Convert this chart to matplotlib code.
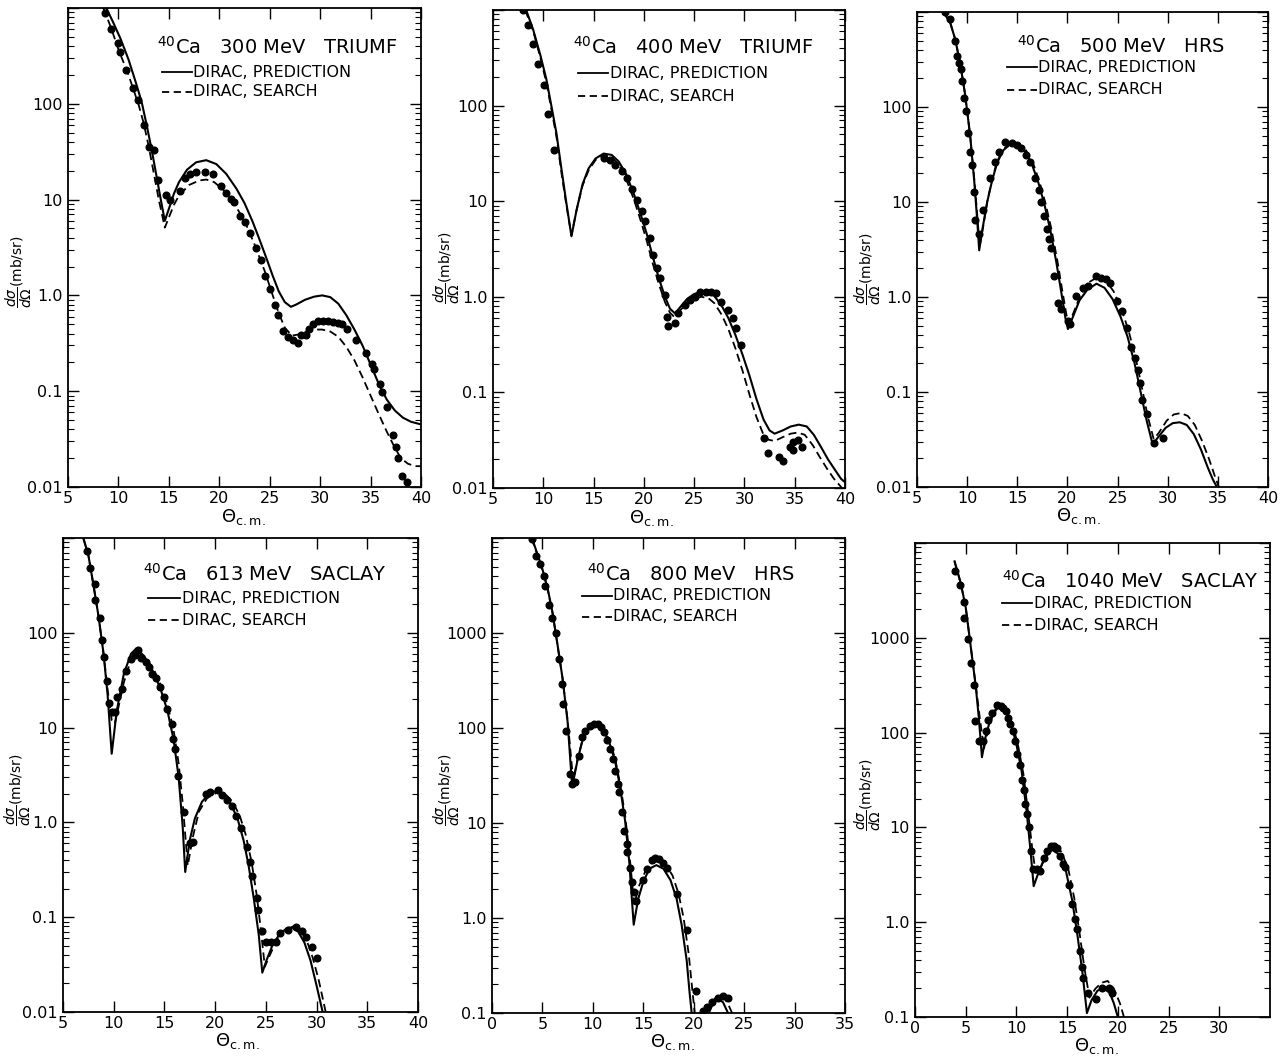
import numpy as np
import matplotlib
matplotlib.use("Agg")
import matplotlib.pyplot as plt
from matplotlib.ticker import FixedLocator, FixedFormatter, LogLocator, NullFormatter

plt.rcParams["font.family"] = ["DejaVu Sans"]
plt.rcParams["mathtext.fontset"] = "dejavusans"

nan = np.nan

# ---------------- 40Ca, 300 MeV, TRIUMF ----------------
th_pred_300 = [8.8, 9.5, 10.2, 11.0, 11.7, 12.3, 12.8, 13.3, 13.8, 14.2, 14.6, 15.0, 15.5, 16.0,
               16.8, 17.7, 18.7, 19.7, 20.7, 21.7, 22.5, 23.3, 24.0, 24.7, 25.3, 25.9, 26.5,
               27.1, 27.6, 28.5, 29.4, 30.2, 31.0, 31.8, 32.6, 33.4, 34.2, 35.0, 35.8, 36.6,
               37.4, 38.2, 39.0, 40.0]
xs_pred_300 = [1000, 700, 480, 290, 170, 105, 60, 33, 17, 10, 6.0, 8.0, 11.5, 15.2,
               20.5, 24.5, 25.8, 23.5, 18.5, 13.0, 9.2, 5.9, 3.8, 2.4, 1.6, 1.1, 0.85,
               0.76, 0.80, 0.90, 0.97, 1.0, 0.96, 0.82, 0.62, 0.44, 0.30, 0.19, 0.12, 0.082,
               0.063, 0.053, 0.048, 0.045]
th_srch_300 = [8.5, 9.2, 10.0, 11.0, 12.0, 12.5, 13.0, 13.5, 14.0, 14.6, 15.0, 15.5, 16.0, 17.0,
               18.0, 18.7, 19.5, 20.5, 21.5, 22.5, 23.5, 24.5, 25.3, 25.9, 26.5, 27.2, 27.8,
               28.6, 29.5, 30.2, 31.0, 31.8, 32.6, 33.4, 34.2, 35.0, 35.8, 36.6, 37.3, 38.0,
               38.7, 39.4, 40.0]
xs_srch_300 = [1000, 650, 370, 200, 98, 63, 36, 19, 10, 5.1, 6.5, 8.8, 11.0, 14.2,
               15.8, 16.2, 15.2, 12.4, 9.0, 6.0, 3.4, 1.8, 1.0, 0.65, 0.46, 0.38, 0.39,
               0.42, 0.44, 0.44, 0.42, 0.37, 0.29, 0.21, 0.14, 0.090, 0.058, 0.038, 0.027, 0.020,
               0.0175, 0.0165, 0.0165]
th_data_300 = [8.7, 9.3, 10.0, 10.2, 10.8, 11.4, 11.9, 12.5, 13.0, 13.5, 13.9, 14.7, 15.1, 16.1,
               16.6, 17.1, 17.7, 18.6, 19.4, 20.2, 20.7, 21.2, 21.5, 22.1, 22.5, 23.0, 23.6,
               24.1, 24.5, 25.0, 25.5, 25.8, 26.3, 26.8, 27.3, 27.8, 28.1, 28.6, 28.9, 29.3,
               29.8, 30.3, 30.8, 31.3, 31.75, 32.2, 32.7, 33.55, 34.5, 35.1, 35.35, 35.9, 36.1,
               36.6, 37.2, 37.5, 37.7, 38.1, 38.6]
xs_data_300 = [880, 600, 430, 350, 225, 145, 110, 60, 35, 33, 16, 11.2, 10, 12.2,
               16.7, 18.3, 19.2, 19.2, 18.3, 13.8, 11.6, 10.2, 9.5, 6.8, 5.9, 4.5, 3.1,
               2.35, 1.6, 1.17, 0.80, 0.63, 0.42, 0.37, 0.34, 0.32, 0.39, 0.39, 0.445, 0.50,
               0.54, 0.54, 0.54, 0.53, 0.51, 0.50, 0.445, 0.34, 0.25, 0.19, 0.17, 0.12, 0.098,
               0.068, 0.035, 0.026, 0.020, 0.013, 0.0112]

# ---------------- 40Ca, 400 MeV, TRIUMF ----------------
th_pred_400 = [8.3, 9.0, 9.7, 10.3, 10.8, 11.3, 11.8, 12.3, 12.8, 13.3, 13.9, 14.5, 15.2, 16.0,
               16.8, 17.5, 18.2, 19.0, 19.7, 20.3, 20.9, 21.5, 22.1, 22.6, 23.1, 23.7, 24.3,
               25.0, 25.7, 26.4, 27.0, 27.7, 28.4, 29.1, 29.8, 30.5, 31.2, 31.9, 32.5, 33.0,
               33.8, 34.6, 35.4, 36.2, 36.9, 37.6, 38.3, 39.0, 39.6, 40.0]
xs_pred_400 = [1000, 620, 340, 190, 100, 52, 22, 9.5, 4.3, 8.0, 15, 22, 28, 31.5,
               30.5, 26, 19.5, 12, 7.2, 4.5, 2.6, 1.55, 1.0, 0.75, 0.67, 0.80, 0.95,
               1.07, 1.13, 1.12, 1.02, 0.82, 0.60, 0.40, 0.25, 0.15, 0.085, 0.052, 0.040, 0.037,
               0.040, 0.044, 0.046, 0.044, 0.036, 0.027, 0.020, 0.0155, 0.0125, 0.0115]
th_srch_400 = [8.2, 9.0, 9.7, 10.3, 10.8, 11.3, 11.8, 12.3, 12.8, 13.3, 13.9, 14.5, 15.2, 16.0,
               16.8, 17.5, 18.2, 19.0, 19.7, 20.3, 20.9, 21.5, 22.1, 22.6, 23.0, 23.6, 24.3,
               25.0, 25.7, 26.4, 27.0, 27.7, 28.4, 29.1, 29.8, 30.5, 31.2, 31.9, 32.4, 33.0,
               33.8, 34.6, 35.3, 36.0, 36.8, 37.5, 38.2, 38.9, 39.7]
xs_srch_400 = [1000, 600, 320, 175, 92, 48, 20, 9.0, 4.4, 8.0, 14.5, 21, 27, 30.5,
               29, 24, 17.5, 10.5, 6.2, 3.8, 2.2, 1.35, 0.88, 0.68, 0.62, 0.72, 0.86,
               0.96, 1.0, 0.97, 0.86, 0.66, 0.46, 0.29, 0.17, 0.095, 0.055, 0.036, 0.032, 0.031,
               0.034, 0.037, 0.038, 0.036, 0.028, 0.021, 0.016, 0.0125, 0.010]
th_data_400 = [8.0, 8.5, 9.0, 9.5, 10.1, 10.5, 11.1, 16.0, 16.6, 17.1, 17.8, 18.3, 18.8, 19.3,
               19.8, 20.1, 20.6, 20.9, 21.3, 21.6, 22.1, 22.3, 22.4, 23.1, 23.4, 24.1, 24.6,
               25.1, 25.6, 26.2, 26.7, 27.2, 27.7, 28.4, 28.9, 29.2, 29.7, 31.9, 32.3, 33.4,
               33.8, 34.5, 34.85, 34.85, 35.35, 35.7]
xs_data_400 = [1000, 700, 445, 275, 163, 82, 34, 28.5, 27, 24, 20.7, 17.6, 13.3, 10.4,
               7.9, 6.2, 4.1, 2.75, 2.0, 1.56, 1.04, 0.62, 0.50, 0.53, 0.67, 0.82, 0.93,
               1.0, 1.13, 1.13, 1.13, 1.10, 0.89, 0.73, 0.60, 0.47, 0.31, 0.033, 0.023, 0.021,
               0.019, 0.027, 0.030, 0.025, 0.032, 0.027]

# ---------------- 40Ca, 500 MeV, HRS ----------------
th_pred_500 = [7.65, 8.3, 8.8, 9.3, 9.8, 10.3, 10.7, 11.0, 11.2, 11.5, 12.0, 12.5, 13.0, 13.6,
               14.3, 15.0, 15.7, 16.4, 17.1, 17.7, 18.3, 18.9, 19.4, 19.8, 20.05, 20.5, 21.2,
               22.0, 22.9, 23.7, 24.5, 25.3, 26.0, 26.7, 27.3, 27.9, 28.5, 29.0, 29.8, 30.5,
               31.2, 31.9, 32.6, 33.3, 34.0, 34.5, 34.9]
xs_pred_500 = [1000, 780, 520, 290, 135, 50, 17, 6.5, 3.1, 5.0, 10, 17, 26, 35,
               40.5, 40, 35, 26, 16, 9.5, 5.0, 2.3, 1.1, 0.60, 0.46, 0.60, 0.92,
               1.2, 1.38, 1.25, 0.95, 0.62, 0.38, 0.20, 0.10, 0.050, 0.028, 0.033, 0.042, 0.047,
               0.048, 0.045, 0.036, 0.025, 0.016, 0.012, 0.010]
th_srch_500 = [7.6, 8.3, 8.8, 9.3, 9.8, 10.3, 10.7, 11.0, 11.25, 11.6, 12.0, 12.5, 13.0, 13.6,
               14.4, 15.1, 15.8, 16.5, 17.2, 17.8, 18.4, 19.0, 19.5, 19.9, 20.15, 20.6, 21.3,
               22.1, 23.0, 23.8, 24.6, 25.4, 26.1, 26.8, 27.4, 28.0, 28.6, 29.1, 29.9, 30.6,
               31.3, 32.0, 32.7, 33.4, 34.1, 34.7, 35.1]
xs_srch_500 = [1000, 780, 520, 290, 135, 50, 18, 7.5, 3.4, 5.5, 10, 17.5, 27, 36,
               42, 41, 36, 27, 16.5, 9.8, 5.2, 2.4, 1.15, 0.65, 0.52, 0.68, 1.05,
               1.42, 1.62, 1.5, 1.15, 0.74, 0.44, 0.23, 0.115, 0.056, 0.032, 0.037, 0.050, 0.058,
               0.060, 0.056, 0.045, 0.031, 0.020, 0.013, 0.010]
th_data_500 = [7.75, 8.3, 8.8, 9.0, 9.2, 9.4, 9.5, 9.7, 9.9, 10.1, 10.3, 10.5, 10.7, 10.8,
               11.2, 11.6, 12.3, 12.8, 13.2, 13.8, 14.5, 15.0, 15.4, 15.9, 16.3, 16.8, 17.2,
               17.4, 17.7, 18.0, 18.2, 18.4, 18.7, 19.1, 19.4, 20.1, 20.3, 20.9, 21.6, 22.1,
               22.8, 23.3, 23.8, 24.2, 24.9, 25.4, 25.9, 26.3, 26.7, 27.05, 27.2, 27.4, 27.9,
               28.6, 29.5]
xs_data_500 = [1000, 846, 496, 344, 292, 250, 187, 124, 90, 53, 34, 24.5, 12.7, 6.5,
               4.6, 8.2, 17.7, 26.6, 33.8, 42.5, 41.5, 39.8, 37, 31, 26.6, 17.7, 13.3,
               10, 7.2, 5.2, 4.1, 3.3, 1.66, 0.87, 0.74, 0.56, 0.52, 1.02, 1.25, 1.32,
               1.65, 1.60, 1.53, 1.39, 0.91, 0.71, 0.47, 0.30, 0.23, 0.17, 0.124, 0.083, 0.058,
               0.029, 0.033]

# ---------------- 40Ca, 613 MeV, SACLAY ----------------
th_pred_613 = [7.0, 7.5, 8.0, 8.5, 9.0, 9.4, 9.8, 10.3, 11.0, 11.7, 12.2, 13.0, 14.0, 14.7,
               15.3, 15.9, 16.4, 16.8, 17.05, 17.5, 18.0, 18.7, 19.4, 20.1, 20.8, 21.5, 22.2,
               22.8, 23.3, 23.8, 24.3, 24.65, 25.1, 25.7, 26.4, 27.1, 27.6, 28.2, 28.8, 29.4,
               30.0, 30.6]
xs_pred_613 = [1000, 660, 320, 150, 60, 22, 5.3, 15, 37, 60, 68, 57, 37, 24,
               15, 7.5, 3.0, 0.9, 0.30, 0.65, 1.1, 1.65, 2.0, 2.15, 2.0, 1.6, 1.1,
               0.65, 0.35, 0.16, 0.065, 0.026, 0.036, 0.052, 0.067, 0.077, 0.078, 0.070, 0.054, 0.035,
               0.019, 0.010]
th_srch_613 = [7.0, 7.5, 8.0, 8.5, 9.0, 9.4, 9.8, 10.1, 10.5, 11.0, 11.7, 12.4, 13.2, 14.0,
               14.7, 15.3, 15.9, 16.4, 16.8, 17.3, 17.8, 18.4, 19.2, 20.3, 21.0, 21.7, 22.4,
               23.0, 23.6, 24.1, 24.5, 24.9, 25.4, 26.0, 26.8, 27.7, 28.4, 29.0, 29.6, 30.2,
               30.9]
xs_srch_613 = [1000, 660, 320, 150, 60, 25, 12, 11, 17, 30, 52, 62, 54, 40,
               27, 17.5, 9.5, 4.2, 1.6, 0.35, 0.70, 1.3, 1.8, 2.1, 2.0, 1.65, 1.2,
               0.75, 0.38, 0.17, 0.075, 0.030, 0.040, 0.055, 0.072, 0.080, 0.073, 0.058, 0.038, 0.022,
               0.010]
th_data_613 = [7.4, 7.7, 8.2, 8.2, 8.6, 8.8, 9.0, 9.3, 9.5, 9.8, 10.1, 10.3, 10.8, 11.2,
               11.7, 12.1, 12.4, 12.7, 13.2, 13.5, 13.8, 14.2, 14.6, 15.0, 15.3, 15.7, 15.8,
               16.0, 16.3, 16.9, 17.5, 17.8, 19.1, 19.5, 20.3, 20.7, 21.2, 21.7, 22.1, 22.5,
               23.1, 23.4, 23.6, 24.1, 24.2, 24.6, 25.05, 25.5, 26.0, 26.4, 27.2, 28.0, 28.6,
               29.0, 29.5, 30.0]
xs_data_613 = [736, 478, 331, 221, 145, 84, 55, 31, 18, 14.6, 14.6, 21, 25.8, 40,
               53, 58, 66, 54, 49, 44, 37, 33, 27, 21, 15.8, 11, 7.6,
               6.0, 3.1, 1.3, 0.60, 0.62, 2.0, 2.1, 2.2, 1.93, 1.74, 1.49, 1.17, 0.87,
               0.55, 0.38, 0.27, 0.16, 0.12, 0.072, 0.055, 0.055, 0.055, 0.068, 0.074, 0.078, 0.072,
               0.062, 0.048, 0.037]

# ---------------- 40Ca, 800 MeV, HRS ----------------
th_pred_800 = [3.96, 4.5, 5.0, 5.5, 6.0, 6.5, 7.0, 7.5, 7.95, 8.5, 9.0, 9.6, 10.2, 11.0,
               11.6, 12.2, 12.7, 13.2, 13.6, 14.05, 14.5, 15.0, 15.6, 16.3, 17.0, 17.7, 18.3,
               18.8, 19.3, 19.6, 19.8, nan, 21.5, 21.9, 22.4, 22.9, 23.4]
xs_pred_800 = [10000, 6800, 4700, 3000, 1650, 750, 330, 115, 24, 47, 76, 101, 112, 96,
               72, 45, 24, 10.5, 4.0, 0.85, 1.6, 2.4, 3.3, 3.6, 3.3, 2.5, 1.6,
               0.85, 0.36, 0.16, 0.10, nan, 0.10, 0.125, 0.14, 0.13, 0.10]
th_srch_800 = [3.9, 4.5, 5.0, 5.5, 6.0, 6.5, 7.0, 7.5, 8.05, 8.5, 9.0, 9.6, 10.2, 11.0,
               11.6, 12.2, 12.7, 13.2, 13.6, 14.1, 14.6, 15.2, 15.8, 16.5, 17.2, 17.9, 18.5,
               19.0, 19.5, 19.9, 20.1, nan, 21.3, 21.8, 22.4, 22.9, 23.4, 23.8]
xs_srch_800 = [10000, 6700, 4600, 2950, 1620, 740, 330, 120, 28, 48, 77, 103, 113, 99,
               76, 48, 26, 12, 5.0, 1.4, 2.2, 3.1, 3.8, 4.0, 3.7, 2.8, 1.8,
               1.0, 0.42, 0.16, 0.10, nan, 0.10, 0.13, 0.155, 0.15, 0.125, 0.10]
th_data_800 = [3.97, 4.4, 4.8, 5.2, 5.3, 5.7, 5.9, 6.3, 6.6, 6.9, 7.0, 7.3, 7.7, 7.9,
               8.2, 8.6, 8.9, 9.2, 9.7, 10.1, 10.5, 10.8, 11.1, 11.4, 11.7, 12.0, 12.2,
               12.5, 12.6, 12.9, 13.1, 13.4, 13.4, 13.7, 13.9, 14.1, 14.3, 15.0, 15.4, 15.9,
               16.2, 16.6, 17.0, 17.4, 18.3, 19.3, 20.2, 20.9, 21.3, 21.8, 22.4, 22.9, 23.4]
xs_data_800 = [9800, 6500, 5300, 4000, 3150, 1970, 1430, 1000, 533, 290, 180, 94, 33, 26,
               27, 51, 81, 94, 104, 110, 110, 102, 91, 74, 60, 47, 35,
               26, 21, 13, 8.3, 6.0, 4.9, 3.4, 2.4, 1.86, 1.52, 2.5, 3.3, 4.1,
               4.3, 4.2, 3.8, 3.4, 1.8, 0.74, 0.17, 0.105, 0.115, 0.13, 0.145, 0.15, 0.145]

# ---------------- 40Ca, 1040 MeV, SACLAY ----------------
th_pred_1040 = [3.9, 4.5, 5.0, 5.5, 6.0, 6.3, 6.6, 7.0, 7.5, 8.0, 8.4, 9.0, 9.5, 10.0,
                10.5, 11.0, 11.4, 11.7, 12.2, 12.8, 13.5, 14.2, 14.9, 15.5, 16.0, 16.5, 16.95,
                17.4, 18.0, 18.6, 19.2, 19.6, 20.0]
xs_pred_1040 = [6400, 3800, 2100, 800, 300, 140, 55, 95, 145, 180, 190, 165, 120, 75,
                40, 15, 5.5, 2.4, 3.4, 4.8, 5.8, 5.2, 3.4, 1.7, 0.75, 0.30, 0.11,
                0.15, 0.19, 0.20, 0.18, 0.14, 0.10]
th_srch_1040 = [3.9, 4.5, 5.0, 5.5, 6.0, 6.4, 6.8, 7.2, 7.7, 8.2, 8.6, 9.2, 9.7, 10.2,
                10.7, 11.2, 11.6, 11.9, 12.4, 13.0, 13.7, 14.4, 15.1, 15.7, 16.2, 16.7, 17.2,
                17.8, 18.4, 19.0, 19.6, 20.2, 20.6]
xs_srch_1040 = [6400, 3800, 2100, 800, 310, 140, 68, 105, 155, 185, 188, 160, 115, 70,
                36, 13, 5.5, 3.3, 3.8, 5.2, 6.2, 5.6, 3.7, 1.8, 0.80, 0.33, 0.16,
                0.20, 0.23, 0.24, 0.20, 0.14, 0.10]
th_data_1040 = [3.95, 4.4, 4.8, 4.8, 5.2, 5.5, 5.8, 5.9, 6.3, 6.7, 7.0, 7.2, 7.6, 8.1,
                8.5, 8.7, 9.0, 9.2, 9.4, 9.7, 9.9, 10.1, 10.4, 10.5, 10.7, 10.8, 11.0,
                11.2, 11.4, 11.6, 12.0, 12.3, 12.7, 13.0, 13.4, 13.7, 14.0, 14.3, 14.6, 14.8,
                15.15, 15.5, 15.8, 16.0, 16.3, 16.45, 16.6, 17.1, 17.8, 18.4, 19.1, 19.4]
xs_data_1040 = [5100, 3640, 2400, 1600, 980, 545, 317, 133, 82, 82, 104, 135, 162, 194,
                192, 183, 169, 144, 123, 105, 82, 59, 46, 32, 25, 17.6, 13.8,
                10, 5.7, 3.6, 3.6, 3.5, 4.8, 5.7, 6.4, 6.4, 6.0, 5.0, 4.1, 3.8,
                2.45, 1.55, 1.08, 0.85, 0.50, 0.34, 0.26, 0.18, 0.155, 0.20, 0.20, 0.18]

ylab_lo = {100: "100", 10: "10", 1: "1.0", 0.1: "0.1", 0.01: "0.01"}
ylab_hi = {1000: "1000", 100: "100", 10: "10", 1: "1.0", 0.1: "0.1"}

W, H = 1287, 1063

panels = [
    dict(box=(68, 421, 8, 487), xlim=(5, 40), xt=[5, 10, 15, 20, 25, 30, 35, 40],
         ylim=(0.01, 1000), ylab=ylab_lo,
         energy="300 MeV", lab="TRIUMF", tx=0.252, ty=0.905, lx=(0.266, 0.351), ly=(0.866, 0.825),
         yl=(-0.097, 0.45), xl=0.496,
         pred=(th_pred_300, xs_pred_300), srch=(th_srch_300, xs_srch_300), data=(th_data_300, xs_data_300)),
    dict(box=(493, 845, 10, 488), xlim=(5, 40), xt=[5, 10, 15, 20, 25, 30, 35, 40],
         ylim=(0.01, 1000), ylab=ylab_lo,
         energy="400 MeV", lab="TRIUMF", tx=0.227, ty=0.908, lx=(0.241, 0.327), ly=(0.868, 0.820),
         yl=(-0.088, 0.46), xl=0.45,
         pred=(th_pred_400, xs_pred_400), srch=(th_srch_400, xs_srch_400), data=(th_data_400, xs_data_400)),
    dict(box=(917, 1268, 12, 487), xlim=(5, 40), xt=[5, 10, 15, 20, 25, 30, 35, 40],
         ylim=(0.01, 1000), ylab=ylab_lo,
         energy="500 MeV", lab="HRS", tx=0.285, ty=0.915, lx=(0.256, 0.342), ly=(0.884, 0.836),
         yl=(-0.097, 0.46), xl=0.46,
         pred=(th_pred_500, xs_pred_500), srch=(th_srch_500, xs_srch_500), data=(th_data_500, xs_data_500)),
    dict(box=(63, 418, 538, 1012), xlim=(5, 40), xt=[5, 10, 15, 20, 25, 30, 35, 40],
         ylim=(0.01, 1000), ylab=ylab_lo,
         energy="613 MeV", lab="SACLAY", tx=0.225, ty=0.910, lx=(0.239, 0.330), ly=(0.873, 0.827),
         yl=(-0.085, 0.47), xl=0.49,
         pred=(th_pred_613, xs_pred_613), srch=(th_srch_613, xs_srch_613), data=(th_data_613, xs_data_613)),
    dict(box=(492, 845, 538, 1013), xlim=(0, 35), xt=[0, 5, 10, 15, 20, 25, 30, 35],
         ylim=(0.1, 10000), ylab=ylab_hi,
         energy="800 MeV", lab="HRS", tx=0.269, ty=0.910, lx=(0.255, 0.340), ly=(0.878, 0.834),
         yl=(-0.085, 0.47), xl=0.51,
         pred=(th_pred_800, xs_pred_800), srch=(th_srch_800, xs_srch_800), data=(th_data_800, xs_data_800)),
    dict(box=(915, 1270, 543, 1017), xlim=(0, 35), xt=[0, 5, 10, 15, 20, 25, 30],
         ylim=(0.1, 10000), ylab=ylab_hi,
         energy="1040 MeV", lab="SACLAY", tx=0.245, ty=0.905, lx=(0.245, 0.330), ly=(0.873, 0.827),
         yl=(-0.090, 0.47), xl=0.51,
         pred=(th_pred_1040, xs_pred_1040), srch=(th_srch_1040, xs_srch_1040), data=(th_data_1040, xs_data_1040)),
]


def decade_label(labels, value):
    for k, v in labels.items():
        if np.isclose(k, value):
            return v
    return ""


fig = plt.figure(figsize=(W / 100, H / 100), dpi=100)
fig.patch.set_facecolor("white")

for p in panels:
    l, r, t, b = p["box"]
    ax = fig.add_axes([l / W, 1 - b / H, (r - l) / W, (b - t) / H])
    ax.set_yscale("log")

    ax.plot(*p["pred"], color="black", lw=1.5, solid_joinstyle="round")
    ax.plot(*p["srch"], color="black", lw=1.3, dashes=(4.5, 2.5))
    ax.plot(*p["data"], "o", color="black", ms=4.8, mec="black")

    ax.set_xlim(*p["xlim"])
    ax.set_ylim(*p["ylim"])

    # decade ticks with fixed labels, minor log ticks in between
    lo, hi = p["ylim"]
    decades = [10.0 ** k for k in range(int(round(np.log10(lo))), int(round(np.log10(hi))) + 1)]
    ax.yaxis.set_major_locator(FixedLocator(decades))
    ax.yaxis.set_major_formatter(FixedFormatter([decade_label(p["ylab"], d) for d in decades]))
    ax.yaxis.set_minor_locator(LogLocator(base=10, subs=np.arange(2, 10)))
    ax.yaxis.set_minor_formatter(NullFormatter())
    ax.xaxis.set_major_locator(FixedLocator(p["xt"]))
    ax.set_xticklabels([str(v) for v in p["xt"]])

    ax.tick_params(which="both", direction="in", top=True, right=True, labelsize=11.5)
    ax.tick_params(which="major", length=8, width=1.0)
    ax.tick_params(axis="x", which="major", pad=3)
    ax.tick_params(axis="y", which="major", pad=4)
    ax.tick_params(which="minor", length=4, width=0.8)
    for s in ax.spines.values():
        s.set_linewidth(1.3)

    ax.set_xlabel(r"$\Theta_{\rm c.m.}$", fontsize=13)
    ax.xaxis.set_label_coords(p["xl"], -0.041)
    ax.set_ylabel(r"$\dfrac{d\sigma}{d\Omega}$(mb/sr)", fontsize=10)
    ax.yaxis.set_label_coords(p["yl"][0], p["yl"][1])

    ax.text(p["tx"], p["ty"], r"$^{40}$Ca   " + p["energy"] + "   " + p["lab"],
            transform=ax.transAxes, fontsize=14, va="baseline", ha="left")

    x0, x1 = p["lx"]
    for yy, solid, name in [(p["ly"][0], True, "DIRAC, PREDICTION"), (p["ly"][1], False, "DIRAC, SEARCH")]:
        if solid:
            ax.plot([x0, x1], [yy, yy], transform=ax.transAxes, color="black", lw=1.3)
        else:
            ax.plot([x0, x1], [yy, yy], transform=ax.transAxes, color="black", lw=1.3, dashes=(4, 2.5))
        ax.text(x1 + 0.004, yy, name, transform=ax.transAxes, fontsize=11.5, va="center", ha="left")

fig.savefig("out.png", dpi=100, facecolor="white")
